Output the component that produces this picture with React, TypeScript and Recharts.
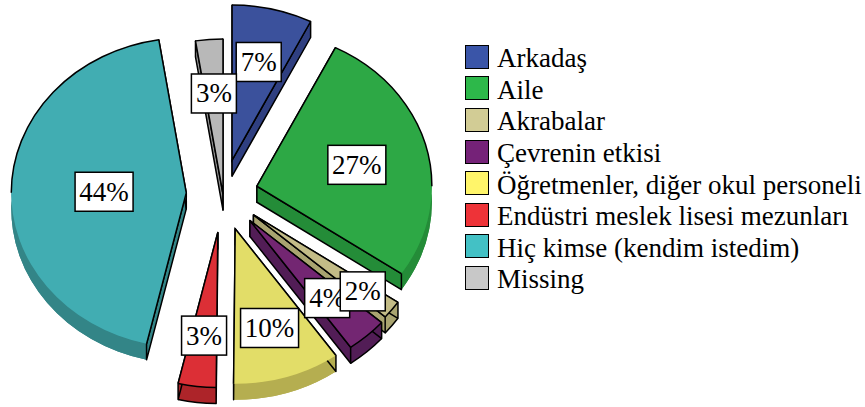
import { PieChart, Pie, Legend } from "recharts";

const CATEGORIES = [
  "Arkadaş",
  "Aile",
  "Akrabalar",
  "Çevrenin etkisi",
  "Öğretmenler, diğer okul personeli",
  "Endüstri meslek lisesi mezunları",
  "Hiç kimse (kendim istedim)",
  "Missing",
];
const VALUES = [7.4, 27.1, 1.9, 3.8, 9.9, 3.49, 43.8, 2.51];

// pie styling, per slice
const TOP_COLORS = ["#3b519c", "#2da845", "#c3bc87", "#732672", "#e2dd68", "#dc2f36", "#41adb2", "#b8b8b8"];
const SIDE_COLORS = ["#2f3f80", "#248c38", "#a9a470", "#521d56", "#b5ae50", "#ad2429", "#338587", "#909090"];
const LEGEND_COLORS = ["#3a55a8", "#2db84a", "#d2cc95", "#752278", "#fff56a", "#ee3338", "#43c1c5", "#c8c8c8"];
const EXPLODE = [0.225, 0.2, 0.22, 0.23, 0.235, 0.25, 0.21, 0];
const LABEL_RADIUS = [0.66, 0.59, 0.79, 0.66, 0.66, 0.66, 0.47, 0.66];

// this label sits above its neighbour, so it goes in the overlay pie
const TOP_LABEL = "Akrabalar";

const RX = 175;
const RY_RATIO = 0.886;
const DEPTH = 16;
const THIN_SLICE = 16; // degrees; thin front slices keep a black outline all round
const FONT = '"Liberation Serif", serif';

const rows = CATEGORIES.map((name, i) => ({
  name,
  value: VALUES[i],
  fill: TOP_COLORS[i],
  side: SIDE_COLORS[i],
  explode: EXPLODE[i],
  labelRadius: LABEL_RADIUS[i],
}));

const rad = (a: number) => (a * Math.PI) / 180;

function point(x: number, y: number, rx: number, ry: number, a: number) {
  return { x: x + rx * Math.cos(rad(a)), y: y - ry * Math.sin(rad(a)) };
}

function Slice3D(props: any) {
  const { cx, cy, outerRadius, startAngle, endAngle, midAngle, fill, payload } = props;
  const row = payload ?? props;
  const rx = outerRadius;
  const ry = outerRadius * RY_RATIO;
  const tip = point(cx, cy, rx * row.explode, ry * row.explode, midAngle);
  const a = point(tip.x, tip.y, rx, ry, startAngle);
  const b = point(tip.x, tip.y, rx, ry, endAngle);
  const face = `M${tip.x},${tip.y} L${a.x},${a.y} A${rx},${ry} 0 0 1 ${b.x},${b.y} Z`;
  const band = `M${a.x},${a.y} A${rx},${ry} 0 0 1 ${b.x},${b.y} L${b.x},${b.y + DEPTH} A${rx},${ry} 0 0 0 ${a.x},${a.y + DEPTH} Z`;
  const wall = (c: { x: number; y: number }) =>
    `M${tip.x},${tip.y} L${c.x},${c.y} L${c.x},${c.y + DEPTH} L${tip.x},${tip.y + DEPTH} Z`;
  const thinFront = startAngle - endAngle < THIN_SLICE && Math.sin(rad(midAngle)) < 0;

  // only the back half of the rim has a black outline
  const rims: string[] = [];
  for (const [hi, lo] of [[90, 0], [-180, -270]]) {
    const s = Math.min(startAngle, hi);
    const e = Math.max(endAngle, lo);
    if (s > e) {
      const p = point(tip.x, tip.y, rx, ry, s);
      const q = point(tip.x, tip.y, rx, ry, e);
      rims.push(`M${p.x},${p.y} A${rx},${ry} 0 0 1 ${q.x},${q.y}`);
    }
  }
  if (thinFront) {
    rims.push(`M${a.x},${a.y} A${rx},${ry} 0 0 1 ${b.x},${b.y}`);
    rims.push(`M${a.x},${a.y + DEPTH} A${rx},${ry} 0 0 1 ${b.x},${b.y + DEPTH}`);
  }

  return (
    <g>
      <path d={face} transform={`translate(0,${DEPTH})`} fill={row.side} stroke="none" />
      <path d={band} fill={row.side} stroke="none" />
      <path d={wall(a)} fill={row.side} stroke="#000" strokeWidth={1.5} strokeLinejoin="round" />
      <path d={wall(b)} fill={row.side} stroke="#000" strokeWidth={1.5} strokeLinejoin="round" />
      <path d={face} fill={fill} stroke="none" />
      <path
        d={`M${a.x},${a.y} L${tip.x},${tip.y} L${b.x},${b.y}`}
        fill="none"
        stroke="#000"
        strokeWidth={1.5}
        strokeLinejoin="miter"
      />
      {rims.map((d) => (
        <path key={d} d={d} fill="none" stroke="#000" strokeWidth={1.5} />
      ))}
    </g>
  );
}

function BoxLabel(props: any) {
  const { cx, cy, outerRadius, midAngle, percent, payload } = props;
  const row = payload ?? props;
  const rx = outerRadius;
  const ry = outerRadius * RY_RATIO;
  const tip = point(cx, cy, rx * row.explode, ry * row.explode, midAngle);
  const c = point(tip.x, tip.y, rx * row.labelRadius, ry * row.labelRadius, midAngle);
  const text = `${Math.round(percent * 100)}%`;
  const w = text.length > 2 ? 58 : 45;
  return (
    <g transform="translate(0,1.5)">
      <rect x={c.x - w / 2} y={c.y - 19.5} width={w} height={39} fill="#fff" stroke="#000" strokeWidth={1.5} />
      <text x={c.x} y={c.y + 9} textAnchor="middle" fontFamily={FONT} fontSize={27} fill="#000">
        {text}
      </text>
    </g>
  );
}

function LegendList({ payload }: any) {
  // the overlay pie adds its slices to the payload too, keep the first set
  const items = (payload ?? []).slice(0, CATEGORIES.length);
  return (
    <div style={{ fontFamily: FONT, fontSize: 27, color: "#000" }}>
      {items.map((item: any, i: number) => (
        <div key={item.value} style={{ display: "flex", alignItems: "center", height: 31.6, whiteSpace: "nowrap" }}>
          <span
            style={{
              width: 22,
              height: 22,
              marginRight: 8,
              flex: "none",
              background: LEGEND_COLORS[i],
              border: "1.5px solid #000",
            }}
          />
          <span style={{ position: "relative", top: 2 }}>{item.value}</span>
        </div>
      ))}
    </div>
  );
}

export default function App() {
  const isTop = (p: any) => (p.payload ?? p).name === TOP_LABEL;
  return (
    <div style={{ position: "absolute", left: 0, top: 0, width: 865, height: 407, background: "#fff" }}>
      <PieChart width={865} height={407} margin={{ top: 0, right: 0, bottom: 0, left: 0 }}>
        <Pie
          data={rows}
          dataKey="value"
          nameKey="name"
          cx={223}
          cy={194}
          outerRadius={RX}
          startAngle={90}
          endAngle={-270}
          stroke="none"
          isAnimationActive={false}
          labelLine={false}
          label={(p: any) => (isTop(p) ? <g /> : <BoxLabel {...p} />)}
          shape={Slice3D}
        />
        {/* same slices again, drawn empty, only to put one label on top */}
        <Pie
          data={rows}
          dataKey="value"
          nameKey="name"
          cx={223}
          cy={194}
          outerRadius={RX}
          startAngle={90}
          endAngle={-270}
          stroke="none"
          legendType="none"
          isAnimationActive={false}
          labelLine={false}
          label={(p: any) => (isTop(p) ? <BoxLabel {...p} /> : <g />)}
          shape={() => <g />}
        />
        <Legend
          layout="vertical"
          align="right"
          verticalAlign="top"
          itemSorter={null}
          content={<LegendList />}
          wrapperStyle={{ left: 465, top: 41, width: 400 }}
        />
      </PieChart>
    </div>
  );
}
